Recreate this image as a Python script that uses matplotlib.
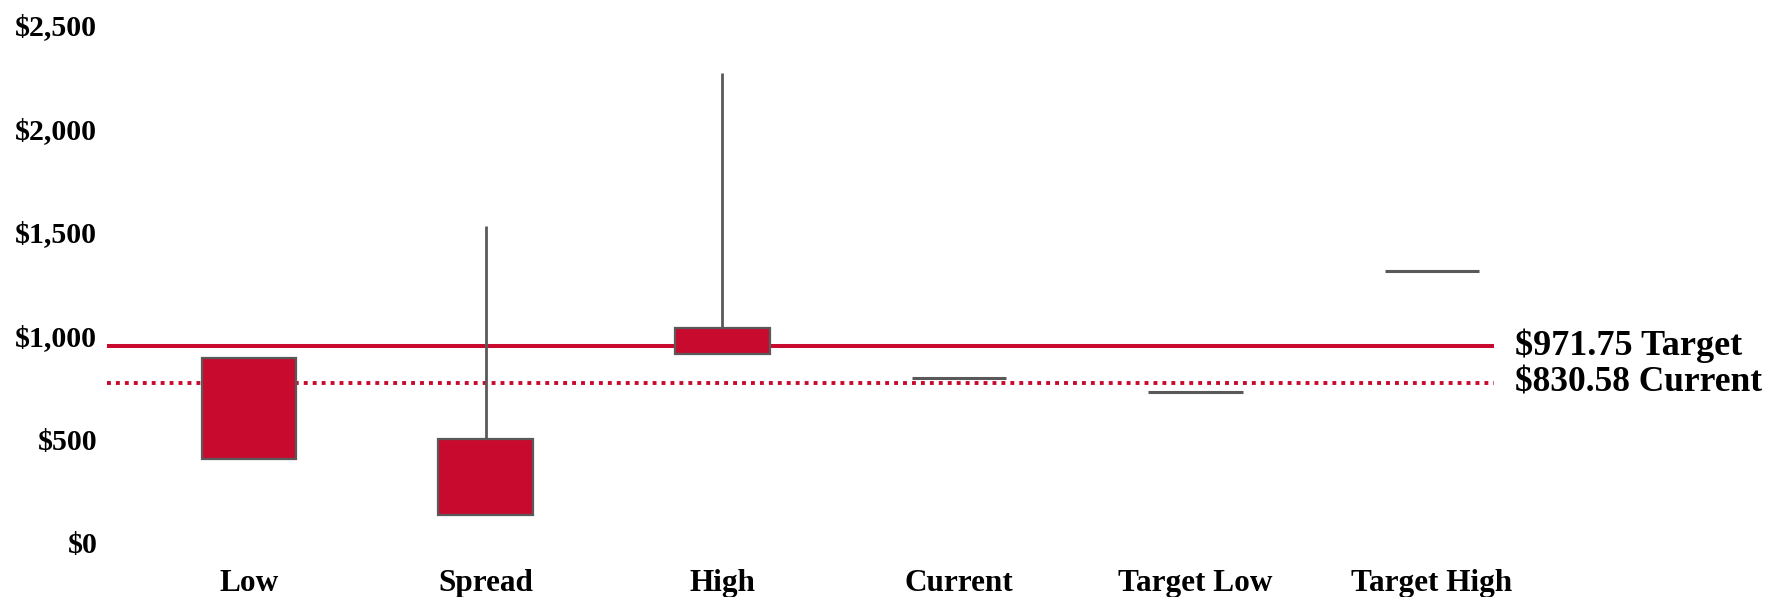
import matplotlib.pyplot as plt

categories = ["Low", "Spread", "High", "Current", "Target Low", "Target High"]
box_bottom = [405, 135, 911, 797, 727, 1311]
box_top = [890, 500, 1038, 797, 727, 1311]
whisker_top = [890, 1528, 2266, 797, 727, 1311]

target_val = 950
current_val = 770
target_label = "$971.75 Target"
current_label = "$830.58 Current"

yticks = [0, 500, 1000, 1500, 2000, 2500]
ytick_labels = ["$0", "$500", "$1,000", "$1,500", "$2,000", "$2,500"]

red = "#C90A2F"
grey = "#595959"

plt.rcParams['font.family'] = ['Liberation Serif', 'DejaVu Serif']
plt.rcParams['font.weight'] = 'bold'

fig = plt.figure(figsize=(17.66, 5.97), dpi=100)
ax = fig.add_axes([0.0606, 0.0905, 0.8307, 0.8685])

x = list(range(len(categories)))
w = 0.4

# reference lines
ax.plot([-0.6, 5.26], [target_val, target_val], color=red, lw=2.9, zorder=1,
        solid_capstyle='butt')
ax.plot([-0.6, 5.26], [current_val, current_val], color=red, lw=2.8,
        linestyle=(0, (1, 1.3)), zorder=1)
ax.text(5.35, target_val, target_label, fontsize=26, fontweight='bold',
        va='center', ha='left')
ax.text(5.35, current_val, current_label, fontsize=25.5, fontweight='bold',
        va='center', ha='left')

for i in x:
    if whisker_top[i] > box_top[i]:
        ax.vlines(i, box_top[i], whisker_top[i], color=grey, lw=2, zorder=2)
    if box_top[i] > box_bottom[i]:
        ax.bar(i, box_top[i] - box_bottom[i], bottom=box_bottom[i], width=w,
               color=red, edgecolor=grey, linewidth=1.6, zorder=3)
    else:
        ax.hlines(box_top[i], i - w / 2, i + w / 2, color=grey, lw=2.2, zorder=3)

ax.set_xlim(-0.6, 5.6)
ax.set_ylim(0, 2500)
ax.set_xticks(x)
ax.set_xticklabels(categories, fontsize=22.5, fontweight='bold')
ax.set_yticks(yticks)
ax.set_yticklabels(ytick_labels, fontsize=21.5, fontweight='bold')
ax.tick_params(axis='x', length=0, pad=19)
ax.tick_params(axis='y', length=0, pad=7)
for s in ax.spines.values():
    s.set_visible(False)

fig.savefig("out.png", dpi=100, facecolor='white')
